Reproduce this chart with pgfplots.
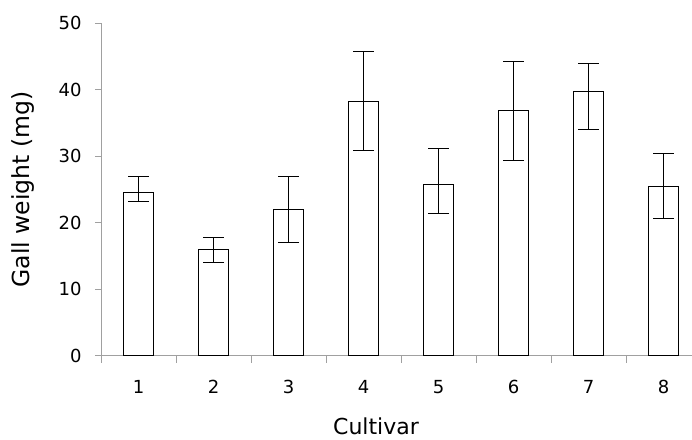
\documentclass[border=0pt]{standalone}
\usepackage{pgfplots}
\pgfplotsset{compat=1.18}
\usepackage{pgfplotstable}
\usepackage{fontspec}
\setmainfont{DejaVu Sans}
\definecolor{axisgray}{RGB}{160,160,160}
\pgfplotstableread{
x y ep em
1 24.6 2.3 1.4
2 16.0 1.8 1.9
3 22.0 4.9 4.95
4 38.25 7.55 7.35
5 25.8 5.3 4.4
6 36.9 7.3 7.6
7 39.7 4.2 5.6
8 25.4 5.0 4.7
}\datatable
\begin{document}
\begin{tikzpicture}
\begin{axis}[
  scale only axis,
  width=600pt, height=332.4pt,
  xmin=0.5, xmax=8.5, ymin=0, ymax=50,
  axis lines=left, axis line style={draw=axisgray, line width=0.9pt, -},
  xtick={1,...,8},
  minor xtick={0.5,1.5,...,7.5},
  major x tick style={draw=none},
  minor x tick style={draw=axisgray, line width=0.9pt},
  minor tick length=7pt,
  ytick={0,10,...,50},
  y tick style={draw=axisgray, line width=0.9pt},
  major tick length=6pt,
  tick align=outside,
  /pgf/number format/assume math mode=true,
  tick label style={font=\fontsize{18}{21}\selectfont, black},
  xticklabel style={yshift=-15pt},
  yticklabel style={xshift=-10pt},
  xlabel={Cultivar}, ylabel={Gall weight (mg)},
  xlabel style={font=\fontsize{22}{26}\selectfont, at={(axis description cs:0,0)}, anchor=center, xshift=275pt, yshift=-71pt},
  ylabel style={font=\fontsize{23.5}{28}\selectfont, at={(axis description cs:0,0.5)}, anchor=center, xshift=0pt, yshift=78pt},
  clip=false,
]
\addplot[ybar, bar width=30pt, draw=black, fill=white, line width=0.9pt,
  error bars/.cd, y dir=both, y explicit,
  error mark options={rotate=90, mark size=10.5pt, line width=0.9pt, black},
  error bar style={line width=0.9pt, black}]
  table[x=x, y=y, y error plus=ep, y error minus=em] {\datatable};
\end{axis}
\pgfresetboundingbox
\path[use as bounding box] (-101pt,-83.3pt) rectangle (591pt,355.7pt);
\end{tikzpicture}
\end{document}
